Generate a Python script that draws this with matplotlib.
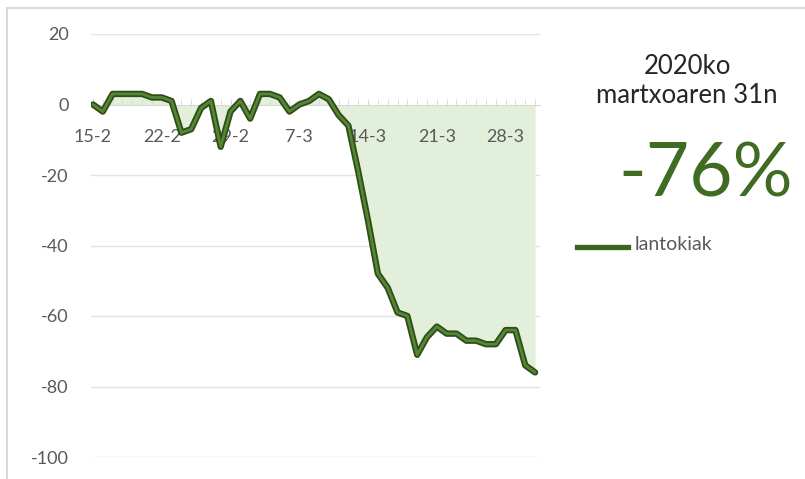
import matplotlib.pyplot as plt
from matplotlib.patches import Rectangle

plt.rcParams['font.family'] = ['Lato', 'DejaVu Sans']

# daily change vs. baseline, 15-2 .. 31-3 (2020)
values = [0, -2, 3, 3, 3, 3, 2, 2, 1, -8,
          -7, -1, 1, -12, -2, 1, -4, 3, 3, 2,
          -2, 0, 1, 3, 1.5, -3, -6, -19, -33, -48,
          -52, -59, -60, -71, -66, -63, -65, -65, -67, -67,
          -68, -68, -64, -64, -74, -76]
tick_pos = [0, 7, 14, 21, 28, 35, 42]
tick_labels = ["15-2", "22-2", "29-2", "7-3", "14-3", "21-3", "28-3"]
yticks = [20, 0, -20, -40, -60, -80, -100]
series_name = "lantokiak"
title_lines = "2020ko\nmartxoaren 31n"
big_value = "-76%"

x = list(range(len(values)))

fig = plt.figure(figsize=(8.05, 4.79), dpi=100)
W, H = 805, 479
ax = fig.add_axes([91 / W, 1 - 457 / H, (540 - 91) / W, (457 - 34) / H])

ax.fill_between(x, 0, values, color="#e2efda", lw=0, zorder=1)
ax.plot(x, values, color="#2e4d19", lw=4.6, solid_capstyle="round",
        solid_joinstyle="round", zorder=3)
ax.plot(x, values, color="#558535", lw=2.0, solid_capstyle="round",
        solid_joinstyle="round", zorder=4)

ax.set_ylim(-100, 20)
ax.set_xlim(-0.2, 45.5)
ax.set_yticks(yticks)
ax.set_yticklabels([str(v) for v in yticks])
for v in yticks:
    if v != 0:
        ax.axhline(v, color="#e3e3e3", lw=1, zorder=0)

for s in ["left", "right", "top"]:
    ax.spines[s].set_visible(False)
ax.spines["bottom"].set_position(("data", 0))
ax.spines["bottom"].set_color("#d9d9d9")
ax.spines["bottom"].set_zorder(2)

ax.set_xticks(tick_pos)
ax.set_xticklabels(tick_labels)
ax.set_xticks(x, minor=True)
ax.tick_params(axis="x", which="both", direction="in", length=4,
               color="#d9d9d9", labelsize=13, labelcolor="#595959", pad=17.5)
ax.tick_params(axis="y", length=0, labelsize=13, labelcolor="#595959", pad=16)

fig.text(687 / W, 1 - 81 / H, title_lines, ha="center", va="center",
         fontsize=18.5, color="#262626", linespacing=1.2)
fig.text(706 / W, 1 - 175 / H, big_value, ha="center", va="center",
         fontsize=54, color="#3f6b22")

fig.add_artist(plt.Line2D([577 / W, 628 / W], [1 - 247 / H, 1 - 247 / H],
                          color="#3a6320", lw=3.8))
fig.text(635 / W, 1 - 245 / H, series_name, ha="left", va="center",
         fontsize=14, color="#595959")

fig.add_artist(Rectangle((7 / W, -0.1), 1.2, 1.1 - 8 / H, fill=False,
                         edgecolor="#d9d9d9", lw=1.5,
                         transform=fig.transFigure))

fig.savefig("out.png", dpi=100, facecolor="white")
